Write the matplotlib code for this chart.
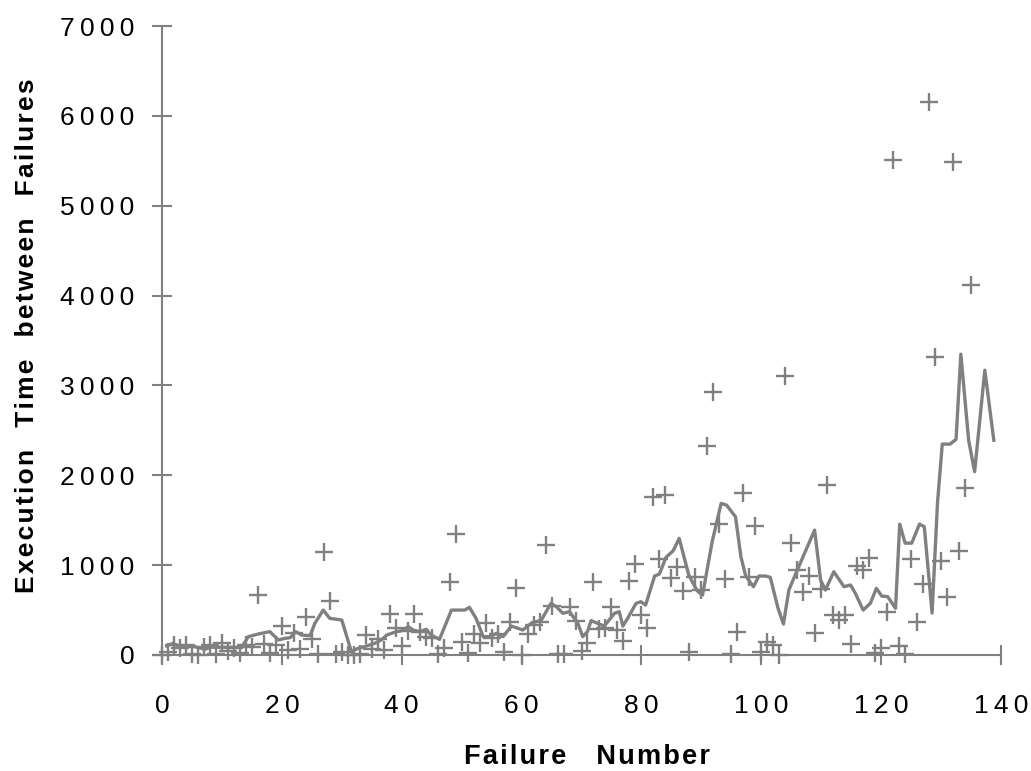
import numpy as np
import matplotlib
matplotlib.use("Agg")
import matplotlib.pyplot as plt

# execution time between successive failures (failure number starts at 0)
tbf = [3, 30, 113, 81, 115, 9, 2, 91, 112, 15, 138, 50, 77, 24, 108, 88,
       670, 120, 26, 114, 325, 55, 242, 68, 422, 180, 10, 1146, 600, 15,
       36, 4, 0, 8, 227, 65, 176, 58, 457, 300, 97, 263, 452, 255, 197,
       193, 6, 79, 816, 1351, 148, 21, 233, 134, 357, 193, 236, 31, 369,
       748, 0, 232, 330, 365, 1222, 543, 10, 16, 529, 379, 44, 129, 810,
       290, 300, 529, 281, 160, 828, 1011, 445, 296, 1755, 1064, 1783, 860,
       983, 707, 33, 868, 724, 2323, 2930, 1461, 843, 12, 261, 1800, 865,
       1435, 30, 143, 108, 0, 3110, 1247, 943, 700, 875, 245, 729, 1897,
       447, 386, 446, 122, 990, 948, 1082, 22, 75, 482, 5509, 100, 10,
       1071, 371, 790, 6150, 3321, 1045, 648, 5485, 1160, 1864, 4116]

# smoothed curve
trend_x = [0.8, 1.8, 2.8, 5.5, 7.2, 8.0, 13.3, 14.4, 16.1, 18.0, 19.4, 20.5,
           21.4, 22.3, 23.3, 24.7, 25.5, 26.9, 28.0, 30.0, 31.6, 32.7, 34.1,
           35.5, 36.6, 37.5, 39.1, 40.0, 41.1, 41.9, 43.0, 44.1, 44.9, 46.3,
           48.3, 50.5, 51.3, 52.4, 53.6, 54.7, 55.8, 56.9, 58.3, 60.2, 61.6,
           63.3, 64.9, 65.8, 66.9, 68.0, 69.4, 70.2, 71.0, 71.6, 72.7, 73.8,
           74.6, 75.5, 76.3, 76.9, 77.7, 79.1, 79.9, 80.7, 82.2, 83.0, 84.1,
           85.3, 86.3, 87.9, 89.3, 90.2, 91.8, 93.3, 94.2, 95.7, 96.6, 97.4,
           98.7, 99.6, 100.7, 101.5, 102.8, 103.7, 104.6, 106.0, 108.9,
           109.9, 110.7, 112.1, 113.8, 114.9, 115.7, 117.0, 118.2, 119.2,
           120.1, 121.1, 122.4, 123.1, 124.0, 125.1, 126.4, 127.2, 128.5,
           129.4, 130.2, 131.5, 132.5, 133.3, 134.6, 135.6, 137.3, 138.8]
trend_y = [100, 130, 100, 92, 63, 86, 86, 204, 234, 260, 167, 185,
           193, 260, 222, 215, 352, 500, 408, 389, 37, 74, 100,
           130, 167, 222, 260, 270, 315, 278, 260, 285, 222, 174,
           500, 500, 530, 408, 204, 204, 241, 204, 322, 278, 352,
           389, 575, 537, 464, 482, 352, 204, 260, 382, 352, 322,
           389, 464, 482, 322, 408, 575, 593, 556, 879, 901, 1087,
           1160, 1298, 890, 715, 667, 1260, 1687, 1668, 1538, 1093, 879,
           760, 879, 879, 864, 519, 345, 723, 945, 1390,
           834, 723, 927, 760, 779, 686, 500, 575, 742,
           656, 649, 520, 1457, 1245, 1245, 1457, 1427, 467,
           1690, 2347, 2347, 2400, 3348, 2390, 2040, 3170, 2390]

xticks = [0, 20, 40, 60, 80, 100, 120, 140]
yticks = [0, 1000, 2000, 3000, 4000, 5000, 6000, 7000]

grey = '#808080'
font = 'Liberation Sans'


def spaced(s, sp='\u2009'):
    return sp.join(s)


fig = plt.figure(figsize=(10.31, 7.71), dpi=100)
ax = fig.add_axes([162/1031, 116/771, 839/1031, 629/771])

ax.plot(np.arange(len(tbf)), tbf, linestyle='none', marker='+',
        markersize=13, markeredgewidth=1.7, color=grey, clip_on=False)
ax.plot(trend_x, trend_y, color=grey, linewidth=2.4, clip_on=False)

ax.set_xlim(0, 140)
ax.set_ylim(0, 7000)
for s in ['top', 'right']:
    ax.spines[s].set_visible(False)
for s in ['left', 'bottom']:
    ax.spines[s].set_color(grey)
    ax.spines[s].set_linewidth(1.5)

ax.set_xticks(xticks)
ax.set_yticks(yticks)
ax.set_xticklabels([spaced(str(t)) for t in xticks], fontfamily=font, fontsize=19)
ax.set_yticklabels([spaced(str(t)) for t in yticks], fontfamily=font, fontsize=19)
ax.tick_params(direction='inout', length=14, width=1.5, color=grey)
ax.tick_params(axis='x', pad=21)
ax.tick_params(axis='y', pad=13)

hair = '\u200a'
fig.text(587/1031, (771-757)/771,
         spaced('Failure', hair) + '    ' + spaced('Number', hair),
         ha='center', va='center', fontsize=19.5, fontweight='bold', fontfamily=font)
fig.text(27/1031, (771-336)/771,
         '   '.join(spaced(w, hair) for w in ['Execution', 'Time', 'between', 'Failures']),
         ha='center', va='center', rotation=90, fontsize=19, fontweight='bold',
         fontfamily=font)

fig.savefig('out.png', dpi=100)
